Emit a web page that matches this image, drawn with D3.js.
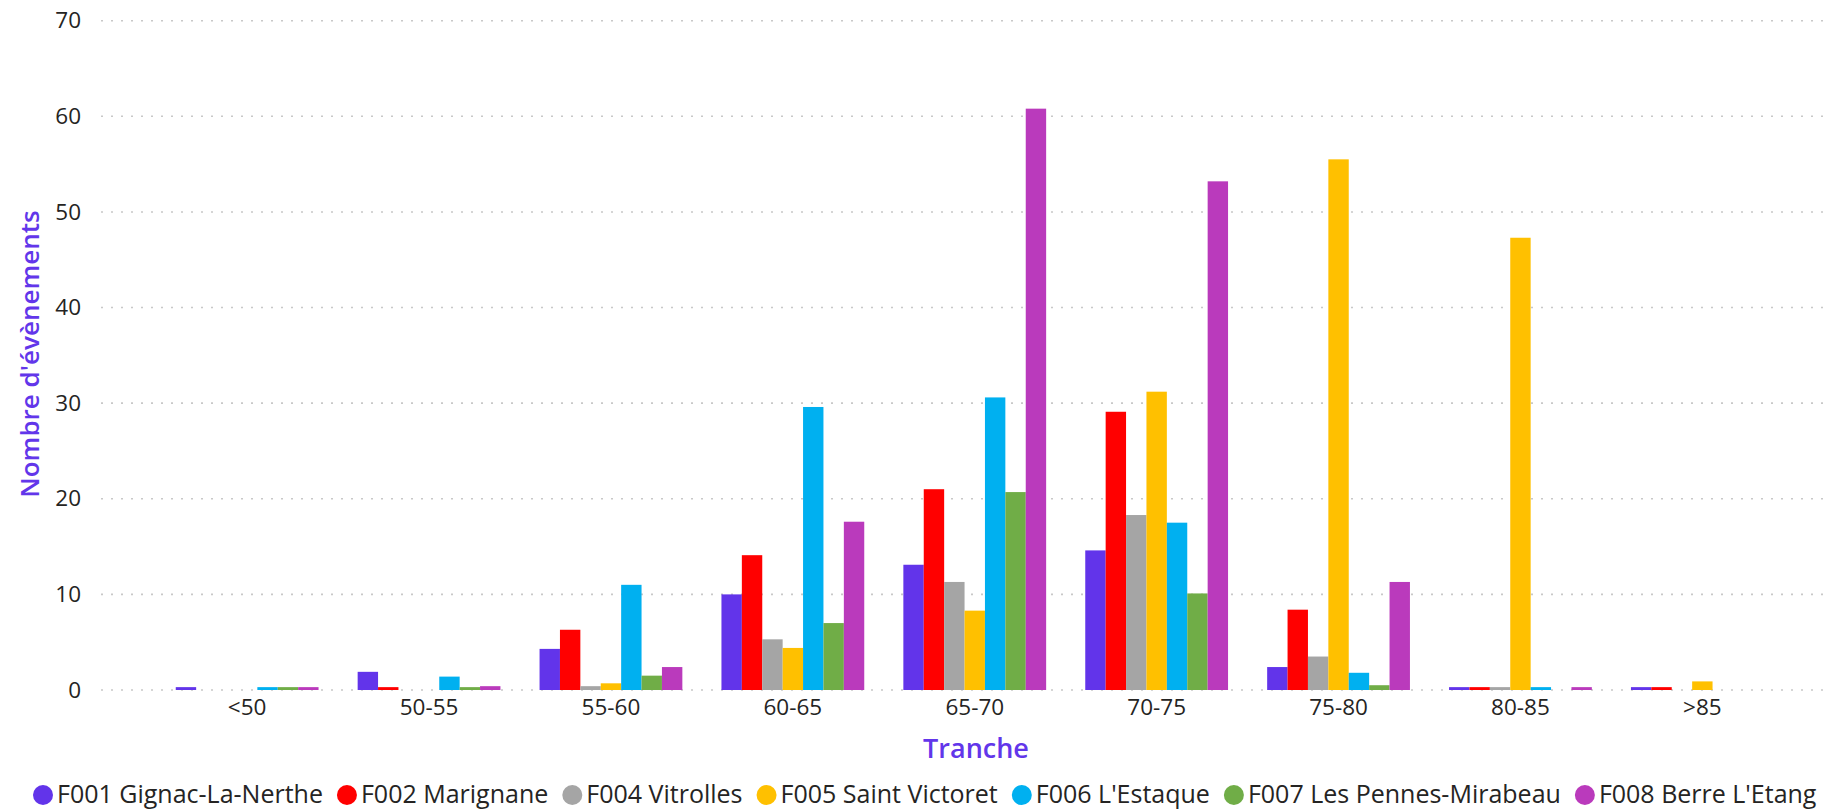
<!DOCTYPE html>
<html>
<head>
<meta charset="utf-8">
<script src="https://cdn.jsdelivr.net/npm/d3@7"></script>
<style>
  html, body { margin: 0; padding: 0; background: #fff; }
  svg { display: block; font-family: "Open Sans", "Noto Sans", sans-serif; }
</style>
</head>
<body>
<svg id="chart" width="1827" height="812"></svg>
<script>
const categories = ["<50", "50-55", "55-60", "60-65", "65-70", "70-75", "75-80", "80-85", ">85"];
const seriesNames = ["F001 Gignac-La-Nerthe", "F002 Marignane", "F004 Vitrolles", "F005 Saint Victoret", "F006 L'Estaque", "F007 Les Pennes-Mirabeau", "F008 Berre L'Etang"];
const seriesColors = ["#6234EA", "#FF0000", "#A5A5A5", "#FFC000", "#00B0F0", "#70AD47", "#BA3ABC"];
const F001 = [0.3, 1.9, 4.3, 10.0, 13.1, 14.6, 2.4, 0.3, 0.3];
const F002 = [0, 0.3, 6.3, 14.1, 21.0, 29.1, 8.4, 0.3, 0.3];
const F004 = [0, 0, 0.4, 5.3, 11.3, 18.3, 3.5, 0.3, 0];
const F005 = [0, 0, 0.7, 4.4, 8.3, 31.2, 55.5, 47.3, 0.9];
const F006 = [0.3, 1.4, 11.0, 29.6, 30.6, 17.5, 1.8, 0.3, 0];
const F007 = [0.3, 0.3, 1.5, 7.0, 20.7, 10.1, 0.5, 0, 0];
const F008 = [0.3, 0.4, 2.4, 17.6, 60.8, 53.2, 11.3, 0.3, 0];
const seriesValues = [F001, F002, F004, F005, F006, F007, F008];
const yTicks = [0, 10, 20, 30, 40, 50, 60, 70];
const xTitle = "Tranche";
const yTitle = "Nombre d'évènements";

const svg = d3.select("#chart");
const textColor = "#252423";
const titleColor = "#6236EA";

const y = d3.scaleLinear().domain([0, 70]).range([690, 20.7]);
const x = d3.scaleBand().domain(categories).range([156.2, 1793.3]).paddingInner(0.215).paddingOuter(0.1075);
const x1 = d3.scaleBand().domain(seriesNames).range([0, x.bandwidth()]).padding(0);

// gridlines
const grid = svg.append("g");
grid.selectAll("line").data(yTicks).join("line")
  .attr("x1", 101).attr("x2", 1827)
  .attr("y1", d => y(d)).attr("y2", d => y(d))
  .attr("stroke", "#C8C8C8").attr("stroke-width", 1.6)
  .attr("stroke-dasharray", "2 8");

// y axis labels
const yAxis = d3.axisLeft(y).tickValues(yTicks).tickSize(0).tickPadding(0);
const yg = svg.append("g").attr("transform", "translate(81,0)").call(yAxis);
yg.select(".domain").remove();
yg.selectAll("text").attr("font-size", 22.5).attr("fill", textColor)
  .attr("font-family", "'Open Sans', sans-serif");

// x axis labels
const xAxis = d3.axisBottom(x).tickSize(0).tickPadding(0);
const xg = svg.append("g").attr("transform", "translate(0,699)").call(xAxis);
xg.select(".domain").remove();
xg.selectAll("text").attr("font-size", 22.5).attr("fill", textColor)
  .attr("font-family", "'Open Sans', sans-serif");

// bars
const groups = svg.append("g").selectAll("g").data(categories).join("g")
  .attr("transform", d => `translate(${x(d)},0)`);
groups.selectAll("rect")
  .data((c, i) => seriesNames.map((s, j) => ({ s, j, v: seriesValues[j][i] })))
  .join("rect")
  .attr("x", d => x1(d.s))
  .attr("width", x1.bandwidth())
  .attr("y", d => y(d.v))
  .attr("height", d => y(0) - y(d.v))
  .attr("fill", d => seriesColors[d.j]);

// axis titles
svg.append("text").text(xTitle)
  .attr("x", 976).attr("y", 758).attr("text-anchor", "middle")
  .attr("font-size", 27).attr("font-weight", 600).attr("fill", titleColor);
svg.append("text").text(yTitle)
  .attr("transform", "translate(39,354) rotate(-90)").attr("text-anchor", "middle")
  .attr("font-size", 26).attr("font-weight", 600).attr("fill", titleColor);

// legend
const legend = svg.append("g");
const legendY = 794;
let cx = 43;
seriesNames.forEach((name, j) => {
  legend.append("circle").attr("cx", cx).attr("cy", legendY + 1).attr("r", 10).attr("fill", seriesColors[j]);
  const t = legend.append("text").text(name).attr("x", cx + 14).attr("y", legendY + 9)
    .attr("font-size", 25).attr("fill", textColor);
  const w = t.node().getComputedTextLength();
  cx = cx + 14 + w + 24;
});
</script>
</body>
</html>
